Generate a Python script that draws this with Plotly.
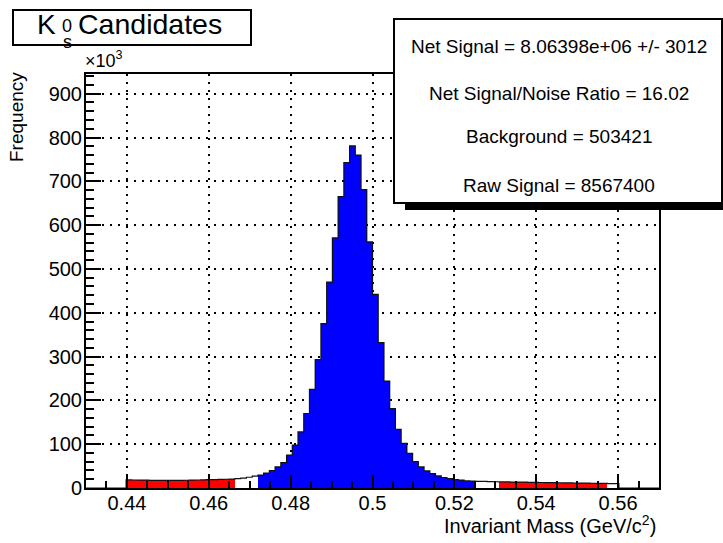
import plotly.graph_objects as go

# ---- data ----
X_MIN, X_MAX, N_BINS = 0.43, 0.57, 100
# counts per bin, in thousands
counts_k = (
    [0] * 7
    + [18.5, 18.3, 18.0, 17.8, 17.5, 17.3, 17.2, 17.2, 17.3, 17.5, 17.7, 18.0,
       18.3, 18.6, 19.0, 19.3, 19.6, 20.0, 20.4]
    + [21.2, 22.5, 24.5, 27.0]
    + [29.5, 34, 40, 48, 58, 75, 98, 128, 170, 225, 293, 375, 470, 571, 665,
       743, 781, 760, 681, 562, 442, 332, 244, 181, 134, 102, 79, 60, 48, 39,
       33, 27.7, 24, 21.7, 19.4, 17.8, 16.5, 15.8]
    + [15.3, 15.0, 14.6, 14.3]
    + [14.0, 13.8, 13.6, 13.4, 13.2, 13.0, 12.8, 12.6, 12.4, 12.2, 12.0, 11.8,
       11.6, 11.4, 11.2, 11.0, 10.8, 10.6, 10.4]
    + [10.2, 10.0]
    + [0] * 7
)
left_sideband_bins = (7, 25)
signal_bins = (30, 67)
right_sideband_bins = (72, 90)

y_ticks = [0, 100, 200, 300, 400, 500, 600, 700, 800, 900]
x_ticks = [0.44, 0.46, 0.48, 0.5, 0.52, 0.54, 0.56]
x_tick_labels = ["0.44", "0.46", "0.48", "0.5", "0.52", "0.54", "0.56"]

stats_lines = [
    "Net Signal = 8.06398e+06 +/- 3012",
    "Net Signal/Noise Ratio = 16.02",
    "Background = 503421",
    "Raw Signal = 8567400",
]

# ---- derived ----
bw = (X_MAX - X_MIN) / N_BINS
centers = [X_MIN + (i + 0.5) * bw for i in range(N_BINS)]
edges = [X_MIN + i * bw for i in range(N_BINS + 1)]

def bin_color(i):
    if left_sideband_bins[0] <= i <= left_sideband_bins[1]:
        return "#ff0000"
    if right_sideband_bins[0] <= i <= right_sideband_bins[1]:
        return "#ff0000"
    if signal_bins[0] <= i <= signal_bins[1]:
        return "#0000ff"
    return "#ffffff"

colors = [bin_color(i) for i in range(N_BINS)]

FONT = "Liberation Sans, Arial, Helvetica, sans-serif"

fig = go.Figure()
fig.add_trace(go.Bar(x=centers, y=counts_k, width=bw, marker_color=colors,
                     marker_line_width=0, hoverinfo="skip"))
fig.add_trace(go.Scatter(x=edges, y=counts_k + [counts_k[-1]], mode="lines",
                         line=dict(shape="hv", color="#111111", width=1.2),
                         hoverinfo="skip"))

# plot area in pixels: left 86, right 659, top 74, bottom 488
L, R, T, B = 86, 659, 74, 488
W, H = 723, 543
def px(x):
    return (x - L) / (R - L)
def py(y):
    return (B - y) / (B - T)

shapes = []
# stats box shadow
shapes.append(dict(type="rect", xref="paper", yref="paper",
                   x0=px(405), x1=px(740), y0=py(210), y1=py(30),
                   fillcolor="black", line=dict(width=0), layer="above"))
# stats box
shapes.append(dict(type="rect", xref="paper", yref="paper",
                   x0=px(394), x1=px(722), y0=py(203), y1=py(19),
                   fillcolor="white", line=dict(color="black", width=2), layer="above"))
# title box
shapes.append(dict(type="rect", xref="paper", yref="paper",
                   x0=px(13), x1=px(251), y0=py(45), y1=py(10),
                   fillcolor="white", line=dict(color="black", width=2), layer="above"))

annotations = []
stat_y = [46.7, 93.3, 136.7, 185]
for t, yy in zip(stats_lines, stat_y):
    annotations.append(dict(text=t, xref="paper", yref="paper", x=px(558.5), y=py(yy),
                            xanchor="center", yanchor="middle", showarrow=False,
                            font=dict(family=FONT, size=19, color="black")))
# title pieces
annotations.append(dict(text="K", xref="paper", yref="paper", x=px(35), y=py(42),
                        xanchor="left", yanchor="bottom", showarrow=False,
                        font=dict(family=FONT, size=28, color="black")))
annotations.append(dict(text="0", xref="paper", yref="paper", x=px(60), y=py(26),
                        xanchor="left", yanchor="middle", showarrow=False,
                        font=dict(family=FONT, size=18, color="black")))
annotations.append(dict(text="s", xref="paper", yref="paper", x=px(60.5), y=py(41.5),
                        xanchor="left", yanchor="middle", showarrow=False,
                        font=dict(family=FONT, size=18, color="black")))
annotations.append(dict(text="Candidates", xref="paper", yref="paper", x=px(76), y=py(42),
                        xanchor="left", yanchor="bottom", showarrow=False,
                        font=dict(family=FONT, size=28.5, color="black")))
# x10^3
annotations.append(dict(text="×10<sup>3</sup>", xref="paper", yref="paper", x=px(83), y=py(73),
                        xanchor="left", yanchor="bottom", showarrow=False,
                        font=dict(family=FONT, size=18, color="black")))
# axis titles
annotations.append(dict(text="Invariant Mass (GeV/c<sup>2</sup>)", xref="paper", yref="paper",
                        x=px(658), y=py(524), xanchor="right", yanchor="middle",
                        showarrow=False, font=dict(family=FONT, size=20, color="black")))
annotations.append(dict(text="Frequency", xref="paper", yref="paper",
                        x=px(17), y=py(70), xanchor="center", yanchor="top", textangle=-90,
                        showarrow=False, font=dict(family=FONT, size=19, color="black")))

fig.update_layout(
    width=W, height=H, autosize=False,
    margin=dict(l=L, r=W - R, t=T, b=H - B, pad=0),
    paper_bgcolor="white", plot_bgcolor="white",
    showlegend=False, bargap=0,
    font=dict(family=FONT, size=20, color="black"),
    shapes=shapes, annotations=annotations,
)
fig.update_xaxes(
    range=[X_MIN, X_MAX], tickvals=x_ticks, ticktext=x_tick_labels,
    ticks="inside", ticklen=13, tickwidth=1.5, tickcolor="black",
    showline=True, linecolor="black", linewidth=2, mirror=True,
    showgrid=True, gridcolor="black", gridwidth=1.5, griddash="2px,6px",
    zeroline=False, tickfont=dict(size=20), ticklabelstandoff=-4,
    minor=dict(dtick=0.005, tick0=0.43, ticks="inside", ticklen=7, tickcolor="black",
               tickwidth=1.5, showgrid=False),
)
fig.update_yaxes(
    range=[0, 945], tickvals=y_ticks, ticktext=[str(v) for v in y_ticks],
    ticks="inside", ticklen=15, tickwidth=1.5, tickcolor="black",
    showline=True, linecolor="black", linewidth=2, mirror=True,
    showgrid=True, gridcolor="black", gridwidth=1.5, griddash="2px,6px",
    zeroline=False, tickfont=dict(size=20), ticklabelstandoff=-2,
    minor=dict(dtick=20, tick0=0, ticks="inside", ticklen=8, tickcolor="black",
               tickwidth=1.5, showgrid=False),
)

fig.write_html("out.html",
               config={"displayModeBar": False},
               post_script="document.body.style.margin='0px';document.body.style.overflow='hidden';")
